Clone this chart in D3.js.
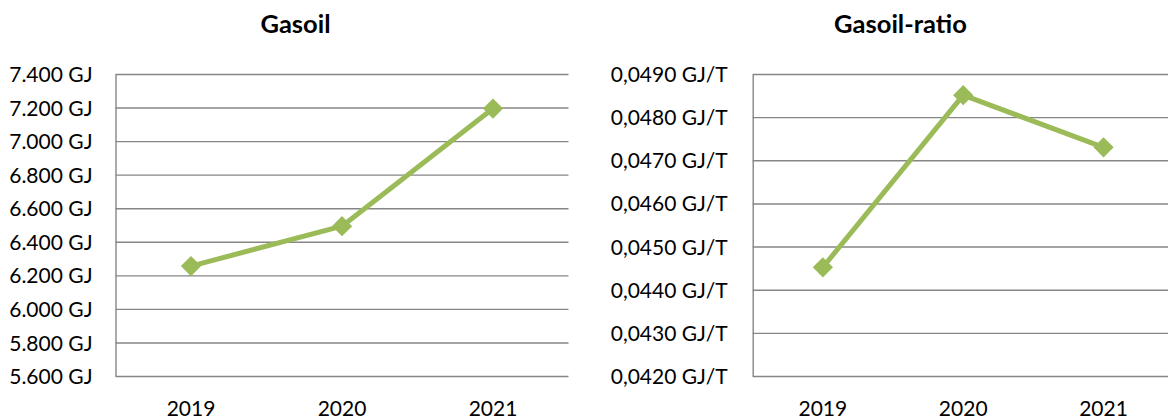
<!DOCTYPE html>
<html>
<head>
<meta charset="utf-8">
<script src="https://cdn.jsdelivr.net/npm/d3@7"></script>
<style>
  html, body { margin: 0; padding: 0; background: #ffffff; }
  svg { display: block; }
  .tick text { font-family: Lato, "Open Sans", sans-serif; font-size: 21px; fill: #000; }
  .title { font-family: Lato, "Open Sans", sans-serif; font-size: 25.5px; font-weight: bold; fill: #000; }
</style>
</head>
<body>
<svg id="chart" width="1168" height="419"></svg>
<script>
const categories = ["2019", "2020", "2021"];
const gasoilValues = [6255, 6493, 7194];
const ratioValues = [0.04452, 0.04851, 0.04730];
const gasoilTicks = [5600, 5800, 6000, 6200, 6400, 6600, 6800, 7000, 7200, 7400];
const ratioTicks = [0.042, 0.043, 0.044, 0.045, 0.046, 0.047, 0.048, 0.049];
const titles = ["Gasoil", "Gasoil-ratio"];

const locale = d3.formatLocale({ decimal: ",", thousands: ".", grouping: [3], currency: ["", "€"] });
const fmtGJ = v => locale.format(",.0f")(v) + " GJ";
const fmtRatio = v => locale.format(".4f")(v) + " GJ/T";

const svg = d3.select("#chart");
svg.append("rect").attr("width", 1168).attr("height", 419).attr("fill", "#fff");

const GRID = "#868686";
const GREEN = "#9BBB59";

function drawChart(opt) {
  const g = svg.append("g");
  const x = d3.scaleBand().domain(categories).range([opt.left, opt.right]).padding(0);
  const y = d3.scaleLinear().domain([opt.ticks[0], opt.ticks[opt.ticks.length - 1]]).range([376, 74]);

  const clipId = "clip" + opt.id;
  svg.append("clipPath").attr("id", clipId).append("rect")
    .attr("x", 0).attr("y", 0).attr("width", 1168).attr("height", 419);

  const yAxis = g.append("g")
    .attr("transform", `translate(${opt.left},0)`)
    .call(d3.axisLeft(y).tickValues(opt.ticks).tickFormat(opt.fmt)
      .tickSizeInner(-(opt.right - opt.left)).tickSizeOuter(0).tickPadding(opt.pad));
  yAxis.select(".domain").attr("stroke", GRID).attr("stroke-width", 1.4);
  yAxis.selectAll(".tick line").attr("stroke", GRID).attr("stroke-width", 1.4);
  yAxis.selectAll(".tick text").attr("dy", "0.36em").attr("font-family", null).attr("font-size", null);

  const xAxis = g.append("g")
    .attr("transform", `translate(0,376)`)
    .call(d3.axisBottom(x).tickSize(0).tickPadding(25));
  xAxis.select(".domain").remove();
  xAxis.selectAll(".tick text").attr("font-family", null).attr("font-size", null);

  const line = d3.line()
    .x((d, i) => x(categories[i]) + x.bandwidth() / 2)
    .y(d => y(d));

  g.append("path").datum(opt.values)
    .attr("d", line)
    .attr("fill", "none")
    .attr("stroke", GREEN)
    .attr("stroke-width", 5)
    .attr("stroke-linejoin", "round");

  g.selectAll(".marker").data(opt.values).join("path")
    .attr("class", "marker")
    .attr("d", d3.symbol(d3.symbolSquare, 205))
    .attr("transform", (d, i) => `translate(${x(categories[i]) + x.bandwidth() / 2},${y(d)}) rotate(45)`)
    .attr("fill", GREEN);

  g.append("text").attr("class", "title")
    .attr("x", opt.titleX).attr("y", 33)
    .attr("text-anchor", "middle")
    .text(opt.title);
}

drawChart({ id: 1, left: 115.5, right: 568.5, values: gasoilValues, ticks: gasoilTicks, fmt: fmtGJ, pad: 23, title: titles[0], titleX: 295.5 });
drawChart({ id: 2, left: 752.7, right: 1173.7, values: ratioValues, ticks: ratioTicks, fmt: fmtRatio, pad: 25, title: titles[1], titleX: 900.5 });
</script>
</body>
</html>
